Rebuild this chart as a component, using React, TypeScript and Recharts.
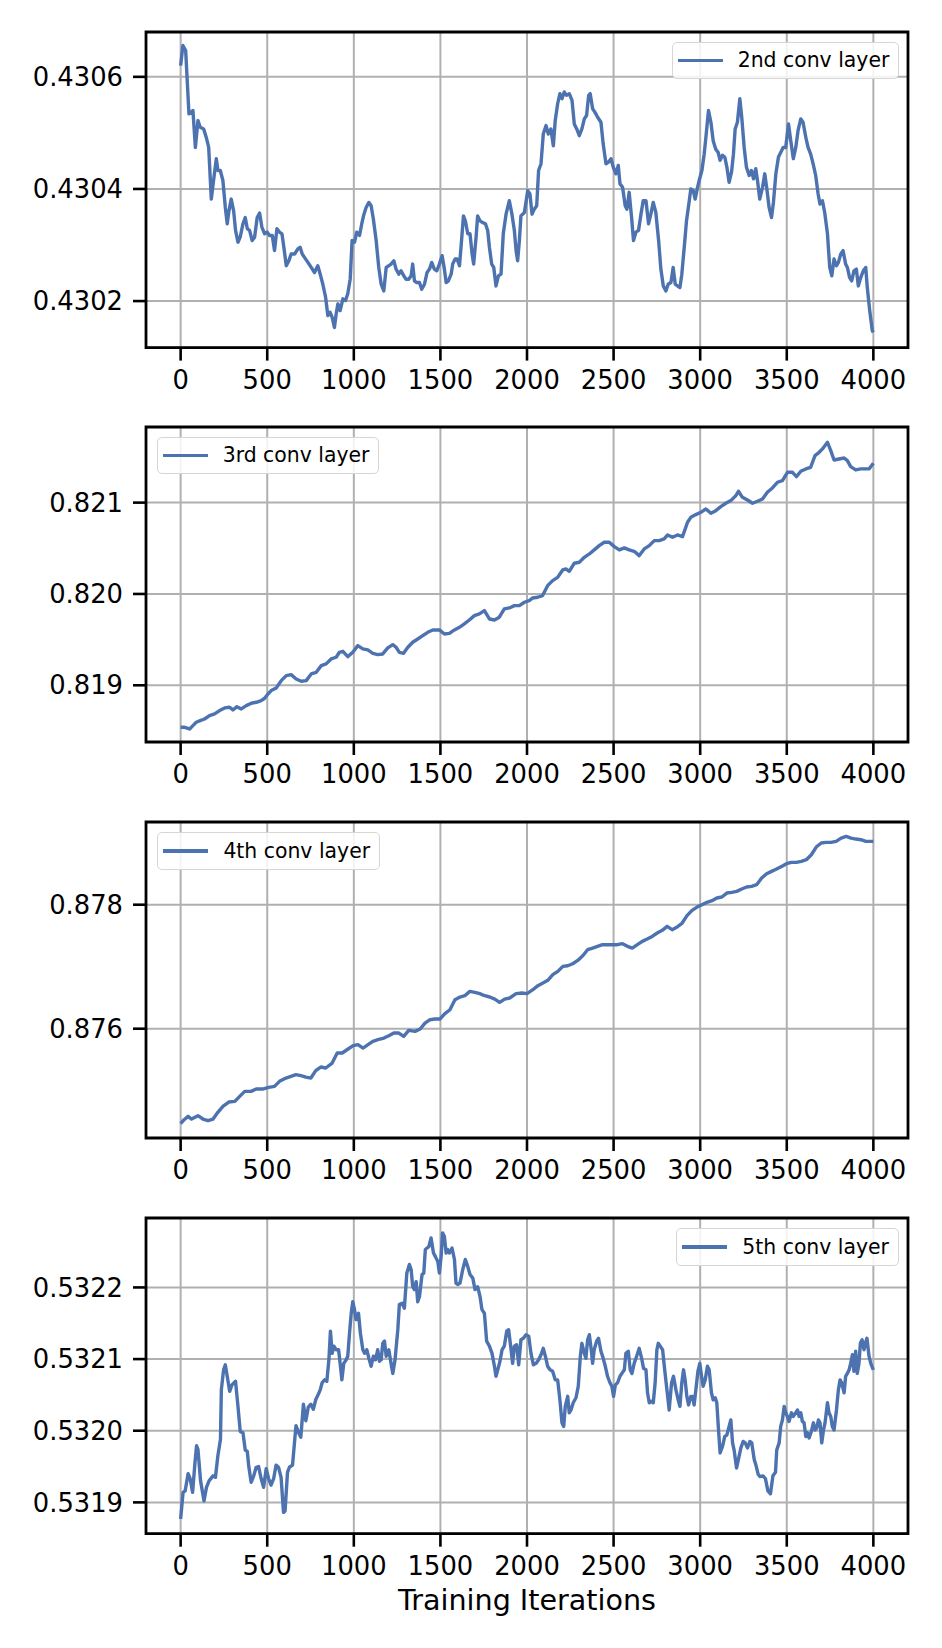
import React from 'react';
import { LineChart, Line, XAxis, YAxis, CartesianGrid, ReferenceArea, Legend, Label } from 'recharts';

const FONT = '"DejaVu Sans", sans-serif';
const LINE_COLOR = '#4c72b0';

// ---------- data ----------
const xTicks = [0, 500, 1000, 1500, 2000, 2500, 3000, 3500, 4000];
const xDomain: [number, number] = [-200, 4200];

const seriesNames = ['2nd conv layer', '3rd conv layer', '4th conv layer', '5th conv layer'];

// [training iteration, value]
const conv2Points: [number, number][] = [
  [0, 0.43062], [13, 0.430656], [29, 0.430647], [48, 0.430534], [62, 0.430537], [71, 0.43054], [85, 0.430474], [100, 0.430522],
  [113, 0.43051], [133, 0.430507], [148, 0.430492], [162, 0.430474], [177, 0.430382], [190, 0.430415], [206, 0.430454], [215, 0.430433],
  [229, 0.430433], [244, 0.430415], [258, 0.430367], [269, 0.430338], [279, 0.430361], [292, 0.430382], [306, 0.430361], [317, 0.430326],
  [331, 0.430305], [344, 0.430314], [360, 0.430338], [373, 0.430349], [385, 0.430329], [398, 0.430326], [413, 0.430308], [427, 0.430314],
  [442, 0.430349], [456, 0.430357], [469, 0.430332], [485, 0.43032], [500, 0.430323], [513, 0.430317], [529, 0.430317], [542, 0.43029],
  [556, 0.430329], [571, 0.430323], [585, 0.43032], [596, 0.430296], [610, 0.430263], [625, 0.430272], [638, 0.430284], [658, 0.430284],
  [677, 0.430293], [690, 0.430296], [702, 0.430284], [715, 0.430278], [735, 0.430269], [754, 0.43026], [773, 0.430251], [792, 0.430263],
  [806, 0.430248], [821, 0.43023], [837, 0.430207], [850, 0.430174], [863, 0.43018], [875, 0.430171], [888, 0.430153], [898, 0.430177],
  [908, 0.430195], [921, 0.430183], [937, 0.430204], [952, 0.430201], [965, 0.430213], [979, 0.430239], [990, 0.430308], [1004, 0.430305],
  [1017, 0.430323], [1033, 0.430317], [1046, 0.430338], [1056, 0.430352], [1071, 0.430367], [1087, 0.430376], [1100, 0.43037], [1113, 0.430346],
  [1129, 0.430308], [1144, 0.43026], [1158, 0.43023], [1173, 0.430218], [1187, 0.43026], [1202, 0.430263], [1215, 0.430266], [1231, 0.430272],
  [1244, 0.430257], [1260, 0.430248], [1273, 0.430254], [1288, 0.430245], [1302, 0.430239], [1317, 0.430239], [1331, 0.430245], [1340, 0.430266],
  [1350, 0.430236], [1363, 0.430233], [1379, 0.430233], [1392, 0.430221], [1408, 0.43023], [1423, 0.430251], [1437, 0.430257], [1450, 0.430269],
  [1465, 0.430257], [1479, 0.430254], [1494, 0.430266], [1510, 0.430281], [1523, 0.430257], [1533, 0.430233], [1546, 0.430236], [1562, 0.430248],
  [1571, 0.430266], [1585, 0.430275], [1596, 0.430275], [1610, 0.430263], [1619, 0.430296], [1633, 0.430352], [1644, 0.430343], [1658, 0.43032],
  [1671, 0.43032], [1683, 0.430284], [1692, 0.430266], [1706, 0.430314], [1715, 0.430352], [1729, 0.430343], [1744, 0.43034], [1760, 0.430338],
  [1773, 0.430326], [1783, 0.430296], [1796, 0.430266], [1808, 0.43026], [1821, 0.430227], [1835, 0.430245], [1850, 0.430248], [1863, 0.43032],
  [1879, 0.430355], [1898, 0.430379], [1913, 0.430355], [1927, 0.430326], [1937, 0.43029], [1946, 0.430272], [1956, 0.430308], [1965, 0.430352],
  [1985, 0.430358], [2004, 0.430397], [2017, 0.430391], [2029, 0.430355], [2042, 0.430364], [2056, 0.43037], [2067, 0.430433], [2081, 0.430445],
  [2094, 0.430498], [2110, 0.430513], [2123, 0.430498], [2138, 0.430507], [2152, 0.430477], [2163, 0.430522], [2177, 0.430552], [2190, 0.43057],
  [2202, 0.430561], [2215, 0.430573], [2228, 0.430567], [2244, 0.43057], [2260, 0.430558], [2273, 0.430516], [2287, 0.430507], [2302, 0.430495],
  [2317, 0.430507], [2331, 0.430525], [2344, 0.430531], [2356, 0.430567], [2365, 0.43057], [2379, 0.430543], [2392, 0.430537], [2408, 0.430528],
  [2427, 0.430519], [2440, 0.43048], [2456, 0.430445], [2471, 0.430448], [2485, 0.430454], [2498, 0.430439], [2513, 0.430427], [2527, 0.430442],
  [2537, 0.430409], [2552, 0.430403], [2567, 0.43037], [2577, 0.430364], [2590, 0.430394], [2604, 0.430349], [2615, 0.430308], [2629, 0.430323],
  [2644, 0.430326], [2658, 0.430355], [2671, 0.430379], [2687, 0.430379], [2702, 0.430338], [2715, 0.430355], [2729, 0.430376], [2744, 0.430358],
  [2760, 0.430308], [2773, 0.430257], [2787, 0.430227], [2802, 0.430218], [2815, 0.43023], [2831, 0.430233], [2844, 0.43026], [2856, 0.43023],
  [2869, 0.430227], [2883, 0.430224], [2894, 0.430248], [2908, 0.430296], [2921, 0.430343], [2937, 0.430379], [2946, 0.4304], [2960, 0.430397],
  [2971, 0.430382], [2985, 0.430403], [2994, 0.430415], [3010, 0.430433], [3023, 0.430462], [3033, 0.430492], [3048, 0.43054], [3062, 0.430519],
  [3075, 0.430486], [3090, 0.430471], [3104, 0.430465], [3115, 0.430451], [3129, 0.43046], [3142, 0.430457], [3154, 0.430439], [3167, 0.430412],
  [3181, 0.43043], [3192, 0.430462], [3202, 0.430507], [3215, 0.430519], [3229, 0.430561], [3240, 0.430528], [3254, 0.430474], [3267, 0.430439],
  [3283, 0.430424], [3296, 0.430433], [3308, 0.430418], [3321, 0.430436], [3331, 0.430415], [3344, 0.430382], [3360, 0.430403], [3373, 0.430427],
  [3385, 0.4304], [3398, 0.430367], [3412, 0.430349], [3423, 0.430376], [3437, 0.430427], [3452, 0.430457], [3465, 0.430465], [3479, 0.430474],
  [3494, 0.430474], [3510, 0.430516], [3523, 0.430486], [3538, 0.430454], [3552, 0.430474], [3565, 0.430504], [3581, 0.430525], [3594, 0.430519],
  [3610, 0.430492], [3623, 0.430474], [3638, 0.430462], [3652, 0.430445], [3667, 0.430424], [3681, 0.430391], [3692, 0.430373], [3706, 0.430379],
  [3719, 0.430358], [3735, 0.43032], [3748, 0.43026], [3760, 0.430245], [3773, 0.430275], [3787, 0.430263], [3798, 0.430269], [3812, 0.430284],
  [3825, 0.43029], [3840, 0.430266], [3850, 0.43026], [3863, 0.430242], [3875, 0.430236], [3888, 0.430254], [3902, 0.430257], [3913, 0.430227],
  [3927, 0.430242], [3942, 0.430254], [3956, 0.43026], [3965, 0.430224], [3979, 0.430183], [3994, 0.430147], [4000, 0.430144],
];

const conv3Points: [number, number][] = [
  [0, 0.81854], [23, 0.81854], [52, 0.818522], [71, 0.818558], [90, 0.818595], [113, 0.818613], [138, 0.818631], [167, 0.818668],
  [196, 0.818686], [225, 0.818723], [254, 0.818752], [283, 0.818759], [302, 0.81873], [325, 0.818766], [350, 0.818741], [379, 0.818777],
  [408, 0.818803], [437, 0.818814], [465, 0.818832], [485, 0.818858], [504, 0.818905], [523, 0.818942], [552, 0.818971], [581, 0.819051],
  [610, 0.819106], [638, 0.819117], [667, 0.819069], [696, 0.819044], [725, 0.819051], [754, 0.819124], [783, 0.819142], [812, 0.819215],
  [840, 0.819234], [869, 0.819288], [898, 0.819307], [917, 0.819361], [937, 0.819372], [965, 0.819314], [994, 0.819361], [1023, 0.819434],
  [1052, 0.819398], [1081, 0.819387], [1110, 0.81935], [1138, 0.819336], [1167, 0.819343], [1196, 0.819409], [1225, 0.819445], [1244, 0.819416],
  [1263, 0.819361], [1287, 0.81935], [1312, 0.819416], [1340, 0.819471], [1369, 0.819507], [1398, 0.819544], [1427, 0.81958], [1456, 0.819606],
  [1494, 0.819606], [1523, 0.819562], [1552, 0.819569], [1581, 0.819606], [1610, 0.819635], [1638, 0.819672], [1667, 0.819715], [1696, 0.819763],
  [1725, 0.819781], [1754, 0.819818], [1783, 0.819726], [1812, 0.819715], [1840, 0.819745], [1869, 0.819836], [1898, 0.819847], [1927, 0.819872],
  [1956, 0.819872], [1985, 0.819909], [2013, 0.819927], [2033, 0.819956], [2062, 0.819964], [2090, 0.819982], [2119, 0.820091], [2148, 0.820146],
  [2177, 0.820182], [2206, 0.820263], [2225, 0.820274], [2244, 0.820248], [2273, 0.820336], [2302, 0.820347], [2331, 0.820401], [2360, 0.820438],
  [2388, 0.820482], [2417, 0.820529], [2446, 0.820566], [2475, 0.820566], [2504, 0.820518], [2533, 0.820482], [2562, 0.820504], [2590, 0.820482],
  [2619, 0.820467], [2648, 0.82042], [2677, 0.820493], [2706, 0.820529], [2735, 0.820584], [2763, 0.820584], [2792, 0.820602], [2812, 0.820646],
  [2840, 0.82062], [2869, 0.820646], [2898, 0.820628], [2927, 0.820785], [2946, 0.820839], [2975, 0.820869], [3004, 0.820894], [3033, 0.820931],
  [3062, 0.820883], [3090, 0.820912], [3119, 0.820956], [3148, 0.820993], [3177, 0.821022], [3206, 0.821077], [3221, 0.821124], [3244, 0.821058],
  [3273, 0.821029], [3302, 0.820993], [3331, 0.821015], [3360, 0.82104], [3388, 0.821113], [3417, 0.821161], [3446, 0.821223], [3475, 0.821241],
  [3504, 0.821332], [3533, 0.821332], [3556, 0.821285], [3581, 0.821343], [3610, 0.821369], [3638, 0.821387], [3663, 0.821515], [3687, 0.821551],
  [3706, 0.821588], [3735, 0.821661], [3754, 0.821569], [3773, 0.821467], [3802, 0.821478], [3831, 0.821489], [3850, 0.82146], [3869, 0.821394],
  [3898, 0.821358], [3927, 0.821369], [3956, 0.821369], [3975, 0.821369], [4000, 0.821431],
];

const conv4Points: [number, number][] = [
  [0, 0.874468], [20, 0.874532], [43, 0.874586], [63, 0.874543], [100, 0.874597], [129, 0.874543], [158, 0.874516], [187, 0.874543],
  [215, 0.874651], [244, 0.874747], [278, 0.874817], [313, 0.874828], [341, 0.874909], [370, 0.874989], [407, 0.874989], [436, 0.875027],
  [473, 0.875027], [508, 0.875054], [542, 0.87507], [571, 0.875151], [608, 0.875204], [637, 0.875231], [666, 0.875258], [694, 0.875242],
  [723, 0.87522], [752, 0.875204], [780, 0.875323], [809, 0.875382], [838, 0.875366], [875, 0.875446], [904, 0.875608], [933, 0.875608],
  [967, 0.875672], [996, 0.875726], [1024, 0.875742], [1053, 0.875688], [1082, 0.875742], [1110, 0.875796], [1139, 0.875823], [1174, 0.875849],
  [1202, 0.875887], [1231, 0.87593], [1260, 0.87593], [1288, 0.875876], [1317, 0.875973], [1354, 0.875957], [1383, 0.875995], [1411, 0.876091],
  [1440, 0.876145], [1469, 0.876156], [1497, 0.876156], [1526, 0.876242], [1555, 0.876306], [1584, 0.876468], [1613, 0.876511], [1641, 0.876532],
  [1670, 0.876602], [1699, 0.876586], [1727, 0.876565], [1756, 0.876532], [1785, 0.876511], [1814, 0.876478], [1842, 0.876425], [1871, 0.876478],
  [1900, 0.876495], [1937, 0.876565], [1971, 0.876575], [2000, 0.876565], [2034, 0.876629], [2063, 0.876694], [2092, 0.876737], [2120, 0.87678],
  [2149, 0.876871], [2178, 0.876925], [2207, 0.877005], [2235, 0.877016], [2264, 0.877048], [2293, 0.877102], [2322, 0.877177], [2350, 0.877274],
  [2379, 0.877301], [2407, 0.877328], [2436, 0.877355], [2465, 0.877355], [2494, 0.877355], [2522, 0.877355], [2551, 0.877371], [2580, 0.877328],
  [2608, 0.877301], [2637, 0.877355], [2666, 0.877409], [2694, 0.877446], [2723, 0.877489], [2752, 0.877543], [2781, 0.877586], [2809, 0.877651],
  [2838, 0.877597], [2867, 0.87764], [2896, 0.877704], [2924, 0.877823], [2953, 0.877909], [2982, 0.877962], [3010, 0.878], [3039, 0.878038],
  [3068, 0.878065], [3096, 0.878108], [3125, 0.878124], [3154, 0.878188], [3182, 0.878199], [3211, 0.878215], [3240, 0.878253], [3268, 0.878285],
  [3297, 0.878296], [3326, 0.878323], [3355, 0.87843], [3384, 0.8785], [3412, 0.878538], [3441, 0.878575], [3470, 0.878618], [3498, 0.878661],
  [3527, 0.878683], [3555, 0.878683], [3584, 0.878699], [3613, 0.878726], [3642, 0.878806], [3670, 0.87893], [3699, 0.878995], [3727, 0.879005],
  [3756, 0.879005], [3785, 0.879022], [3814, 0.879075], [3843, 0.879102], [3871, 0.879075], [3900, 0.879059], [3928, 0.879048], [3957, 0.879022],
  [4000, 0.879022],
];

const conv5Points: [number, number][] = [
  [0, 0.531877], [14, 0.531914], [26, 0.531916], [43, 0.53194], [55, 0.531933], [69, 0.531914], [83, 0.531956], [92, 0.531979],
  [100, 0.531974], [115, 0.53193], [135, 0.531902], [149, 0.531921], [164, 0.53193], [187, 0.531937], [201, 0.531935], [215, 0.531965],
  [230, 0.531988], [235, 0.532057], [248, 0.532085], [258, 0.532092], [269, 0.532076], [283, 0.532055], [296, 0.532064], [317, 0.532069],
  [331, 0.532034], [344, 0.531999], [360, 0.531997], [373, 0.531973], [385, 0.531971], [393, 0.531951], [407, 0.531928], [422, 0.531937],
  [436, 0.531949], [450, 0.53195], [465, 0.531933], [479, 0.531921], [494, 0.531947], [508, 0.531933], [522, 0.531924], [537, 0.531933],
  [551, 0.531952], [565, 0.531949], [580, 0.531935], [594, 0.531886], [603, 0.531888], [617, 0.531942], [628, 0.531949], [646, 0.531952],
  [666, 0.532007], [680, 0.531998], [694, 0.531991], [709, 0.532037], [723, 0.532014], [737, 0.532033], [752, 0.532037], [766, 0.53203],
  [781, 0.532044], [795, 0.532051], [806, 0.532057], [817, 0.532067], [831, 0.532071], [844, 0.532069], [856, 0.532099], [865, 0.532139],
  [875, 0.532108], [885, 0.532118], [898, 0.532113], [912, 0.532113], [921, 0.532094], [931, 0.532071], [942, 0.532094], [956, 0.532099],
  [965, 0.532104], [975, 0.532136], [985, 0.532164], [994, 0.53218], [1004, 0.532169], [1013, 0.532155], [1027, 0.532164], [1038, 0.532136],
  [1052, 0.532113], [1062, 0.532108], [1075, 0.532113], [1087, 0.532101], [1100, 0.53209], [1113, 0.532104], [1125, 0.532099], [1138, 0.532113],
  [1148, 0.532097], [1158, 0.532099], [1167, 0.532122], [1177, 0.532125], [1187, 0.532104], [1202, 0.532113], [1215, 0.532094], [1225, 0.53208],
  [1238, 0.532099], [1254, 0.532141], [1263, 0.532176], [1279, 0.532178], [1292, 0.532171], [1306, 0.53222], [1321, 0.532232], [1331, 0.532225],
  [1340, 0.532201], [1350, 0.532197], [1360, 0.532208], [1369, 0.53218], [1379, 0.532187], [1394, 0.532218], [1404, 0.53222], [1413, 0.532253],
  [1423, 0.532255], [1433, 0.532257], [1446, 0.532269], [1460, 0.532248], [1471, 0.532243], [1485, 0.532236], [1494, 0.53222], [1504, 0.532243],
  [1513, 0.532276], [1523, 0.532271], [1533, 0.532248], [1542, 0.532253], [1552, 0.532248], [1567, 0.532255], [1581, 0.532239], [1590, 0.532206],
  [1600, 0.532204], [1613, 0.532206], [1629, 0.532225], [1644, 0.532239], [1658, 0.532229], [1671, 0.532218], [1687, 0.532213], [1700, 0.532197],
  [1715, 0.532201], [1729, 0.532187], [1740, 0.532169], [1754, 0.532164], [1767, 0.532125], [1783, 0.532118], [1798, 0.532108], [1812, 0.53209],
  [1821, 0.532076], [1831, 0.532085], [1844, 0.532097], [1856, 0.532113], [1869, 0.532118], [1883, 0.532139], [1894, 0.532141], [1908, 0.532113],
  [1917, 0.532094], [1927, 0.532118], [1940, 0.53212], [1952, 0.532092], [1965, 0.532127], [1979, 0.532129], [1994, 0.532134], [2010, 0.532132],
  [2023, 0.532108], [2037, 0.532092], [2052, 0.532094], [2067, 0.532099], [2081, 0.532106], [2094, 0.532115], [2106, 0.532104], [2119, 0.53209],
  [2133, 0.532085], [2148, 0.532083], [2163, 0.532071], [2177, 0.532071], [2190, 0.532043], [2202, 0.532011], [2212, 0.532006], [2221, 0.532034],
  [2235, 0.532048], [2244, 0.532025], [2254, 0.532029], [2267, 0.532039], [2283, 0.532046], [2296, 0.532062], [2308, 0.532104], [2317, 0.532122],
  [2331, 0.532108], [2340, 0.532101], [2350, 0.532127], [2360, 0.532134], [2371, 0.532113], [2379, 0.532094], [2388, 0.532113], [2402, 0.532125],
  [2413, 0.532129], [2427, 0.532111], [2440, 0.532101], [2452, 0.53209], [2465, 0.532076], [2479, 0.532067], [2490, 0.532062], [2500, 0.532048],
  [2510, 0.532064], [2523, 0.532067], [2537, 0.532076], [2548, 0.53208], [2562, 0.532085], [2571, 0.532108], [2585, 0.532111], [2596, 0.532085],
  [2606, 0.53208], [2619, 0.532094], [2633, 0.532104], [2648, 0.532115], [2662, 0.532101], [2673, 0.532087], [2687, 0.532085], [2696, 0.532053],
  [2706, 0.532039], [2717, 0.532041], [2729, 0.532039], [2740, 0.532067], [2750, 0.532113], [2758, 0.532122], [2769, 0.532118], [2783, 0.532113],
  [2796, 0.532083], [2808, 0.532057], [2821, 0.532029], [2835, 0.532067], [2846, 0.532076], [2860, 0.532057], [2873, 0.532043], [2883, 0.532034],
  [2894, 0.532067], [2904, 0.532085], [2913, 0.532071], [2923, 0.532048], [2933, 0.532036], [2946, 0.532048], [2956, 0.532048], [2965, 0.532036],
  [2975, 0.532057], [2987, 0.532083], [2998, 0.532094], [3008, 0.532076], [3017, 0.532062], [3029, 0.532071], [3042, 0.53209], [3052, 0.532085],
  [3065, 0.532053], [3075, 0.532043], [3087, 0.532046], [3096, 0.532039], [3106, 0.532001], [3115, 0.531969], [3129, 0.531978], [3142, 0.531992],
  [3154, 0.531994], [3167, 0.532006], [3177, 0.532015], [3187, 0.531983], [3196, 0.531973], [3210, 0.531948], [3221, 0.53196], [3235, 0.531976],
  [3248, 0.531985], [3260, 0.531983], [3273, 0.531976], [3287, 0.531985], [3298, 0.531983], [3312, 0.53196], [3321, 0.531953], [3335, 0.531939],
  [3346, 0.531936], [3363, 0.531937], [3377, 0.531933], [3391, 0.531916], [3406, 0.531912], [3420, 0.531937], [3435, 0.531942], [3442, 0.531973],
  [3456, 0.531983], [3465, 0.532006], [3475, 0.532015], [3485, 0.532034], [3494, 0.532025], [3504, 0.53202], [3513, 0.532013], [3527, 0.532025],
  [3538, 0.53202], [3552, 0.532025], [3562, 0.532029], [3571, 0.53202], [3581, 0.532025], [3590, 0.532013], [3600, 0.532011], [3610, 0.531992],
  [3619, 0.531997], [3629, 0.53199], [3642, 0.531999], [3654, 0.532011], [3663, 0.532001], [3673, 0.532004], [3683, 0.532015], [3692, 0.532011],
  [3702, 0.531983], [3712, 0.532001], [3721, 0.532011], [3735, 0.532039], [3744, 0.532025], [3754, 0.53202], [3763, 0.532006], [3773, 0.532001],
  [3787, 0.532029], [3798, 0.532057], [3808, 0.532071], [3817, 0.532067], [3831, 0.532053], [3840, 0.532076], [3850, 0.53208], [3860, 0.532085],
  [3869, 0.532094], [3879, 0.532106], [3888, 0.532083], [3898, 0.532111], [3907, 0.53208], [3917, 0.532094], [3925, 0.532122], [3935, 0.532127],
  [3946, 0.532113], [3954, 0.532122], [3963, 0.532129], [3975, 0.532104], [3985, 0.532094], [4000, 0.532085],
];

const conv2YTicks = [0.4302, 0.4304, 0.4306];
const conv3YTicks = [0.819, 0.82, 0.821];
const conv4YTicks = [0.876, 0.878];
const conv5YTicks = [0.5319, 0.532, 0.5321, 0.5322];

const conv2YDomain: [number, number] = [0.430117, 0.43068];
const conv3YDomain: [number, number] = [0.818379, 0.821828];
const conv4YDomain: [number, number] = [0.874237, 0.879334];
const conv5YDomain: [number, number] = [0.5318563, 0.5322969];

const panels = [
  { name: seriesNames[0], points: conv2Points, yTicks: conv2YTicks, yDomain: conv2YDomain, digits: 4 },
  { name: seriesNames[1], points: conv3Points, yTicks: conv3YTicks, yDomain: conv3YDomain, digits: 3 },
  { name: seriesNames[2], points: conv4Points, yTicks: conv4YTicks, yDomain: conv4YDomain, digits: 3 },
  { name: seriesNames[3], points: conv5Points, yTicks: conv5YTicks, yDomain: conv5YDomain, digits: 4 },
];

// ---------- layout (page pixels) ----------
const layouts = [
  { top: 11.7, plotHeight: 315.6, legend: { right: 42.7 }, xLabel: false },
  { top: 406.7, plotHeight: 315, legend: { left: 156.7 }, xLabel: false },
  { top: 802.3, plotHeight: 316, legend: { left: 157.4 }, xLabel: false },
  { top: 1198.3, plotHeight: 315.7, legend: { right: 43 }, xLabel: true },
];

const LegendBox = ({ label }: { label: string }) => (
  <div
    style={{
      display: 'flex',
      alignItems: 'center',
      boxSizing: 'border-box',
      height: 37.5,
      padding: '0 9px 0 5px',
      border: '1.5px solid #d6d6d6',
      borderRadius: 5,
      background: 'rgba(255,255,255,0.85)',
      fontFamily: FONT,
      fontSize: 20.4,
      color: '#000',
      whiteSpace: 'nowrap',
      lineHeight: 1,
    }}
  >
    <span style={{ display: 'inline-block', width: 45, height: 3.5, background: LINE_COLOR, marginRight: 15 }} />
    <span>{label}</span>
  </div>
);

const tickStyle = { fill: '#000', fontSize: 25.8, fontFamily: FONT };
const tickLineStyle = { stroke: '#000', strokeWidth: 2.6 };

function Panel({ idx }: { idx: number }) {
  const p = panels[idx];
  const lay = layouts[idx];
  const data = p.points.map(([x, y]) => ({ x, y }));
  const xAxisHeight = lay.xLabel ? 95 : 50;
  const height = 20 + lay.plotHeight + xAxisHeight;
  const legendPos: any = { top: 30, bottom: 'auto', width: 'auto', height: 'auto' };
  if ('right' in lay.legend) {
    legendPos.right = (lay.legend as any).right;
    legendPos.left = 'auto';
  } else {
    legendPos.left = (lay.legend as any).left;
    legendPos.right = 'auto';
  }
  return (
    <div style={{ position: 'absolute', left: 0, top: lay.top }}>
      <LineChart width={942} height={height} data={data} margin={{ top: 20, right: 34, bottom: 0, left: 0 }}>
        <CartesianGrid stroke="#b0b0b0" strokeWidth={2} />
        <XAxis
          dataKey="x"
          type="number"
          domain={xDomain}
          ticks={xTicks}
          interval={0}
          allowDataOverflow
          axisLine={false}
          tickLine={tickLineStyle}
          tickSize={13}
          tickMargin={10}
          tick={tickStyle}
          height={xAxisHeight}
        >
          {lay.xLabel ? (
            <Label
              value="Training Iterations"
              position="insideBottom"
              offset={19}
              fill="#000"
              fontSize={28.6}
              fontFamily={FONT}
              style={{ fill: '#000', fontSize: 28.6, fontFamily: FONT }}
            />
          ) : null}
        </XAxis>
        <YAxis
          type="number"
          domain={p.yDomain}
          ticks={p.yTicks}
          interval={0}
          allowDataOverflow
          width={146}
          axisLine={false}
          tickLine={tickLineStyle}
          tickSize={13}
          tickMargin={10}
          tick={tickStyle}
          tickFormatter={(v: number) => v.toFixed(p.digits)}
        />
        <Line
          type="linear"
          dataKey="y"
          name={p.name}
          stroke={LINE_COLOR}
          strokeWidth={3.4}
          strokeLinejoin="round"
          dot={false}
          activeDot={false}
          isAnimationActive={false}
        />
        <ReferenceArea
          x1={xDomain[0]}
          x2={xDomain[1]}
          y1={p.yDomain[0]}
          y2={p.yDomain[1]}
          fill="none"
          fillOpacity={0}
          stroke="#000"
          strokeWidth={2.8}
          ifOverflow="visible"
        />
        <Legend
          layout="horizontal"
          verticalAlign="middle"
          align="center"
          wrapperStyle={legendPos}
          content={() => <LegendBox label={p.name} />}
        />
      </LineChart>
    </div>
  );
}

export default function App() {
  return (
    <div style={{ position: 'absolute', left: 0, top: 0, width: 942, height: 1648, background: '#fff' }}>
      {panels.map((_, i) => (
        <Panel key={i} idx={i} />
      ))}
    </div>
  );
}
